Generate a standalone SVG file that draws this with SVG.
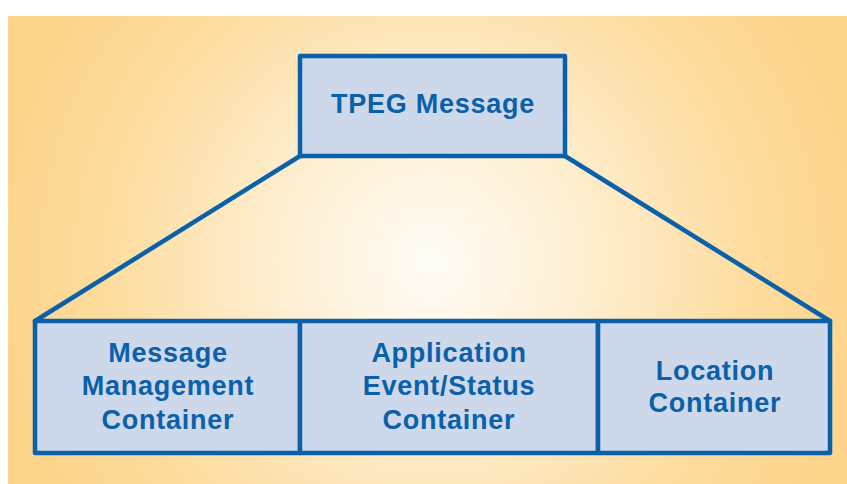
<svg xmlns="http://www.w3.org/2000/svg" width="847" height="484" viewBox="0 0 847 484">
<defs>
<radialGradient id="bg" gradientUnits="userSpaceOnUse" cx="430" cy="262" r="430">
<stop offset="0" stop-color="#FFFCF6"/>
<stop offset="0.35" stop-color="#FEEFD2"/>
<stop offset="0.75" stop-color="#FDDC9E"/>
<stop offset="1" stop-color="#FDD58D"/>
</radialGradient>
</defs>
<style>
.box{fill:#CDD9EA;stroke:#0A60A9;stroke-width:4.5;stroke-linejoin:round}
.conn{fill:none;stroke:#0A60A9;stroke-width:4.5;stroke-linecap:round}
.t{font-family:"Liberation Sans",Arial,sans-serif;font-weight:bold;font-size:27px;fill:#0A60A9;text-anchor:middle;letter-spacing:0.75px}
</style>
<rect x="8" y="16" width="839" height="468" fill="url(#bg)"/>
<g id="connectors">
<line class="conn" x1="300" y1="156" x2="35" y2="321"/>
<line class="conn" x1="565" y1="156" x2="830" y2="321"/>
</g>
<g id="tpeg-message">
<rect class="box" x="300" y="56" width="265" height="100"/>
<text class="t" x="433" y="113">TPEG Message</text>
</g>
<g id="message-management-container">
<rect class="box" x="35" y="321" width="265" height="132"/>
<text class="t" x="168" y="362">Message</text>
<text class="t" x="168" y="395">Management</text>
<text class="t" x="168" y="428.5">Container</text>
</g>
<g id="application-event-status-container">
<rect class="box" x="300" y="321" width="298" height="132"/>
<text class="t" x="449" y="362">Application</text>
<text class="t" x="449" y="395">Event/Status</text>
<text class="t" x="449" y="428.5">Container</text>
</g>
<g id="location-container">
<rect class="box" x="598" y="321" width="232" height="132"/>
<text class="t" x="715" y="380">Location</text>
<text class="t" x="715" y="412">Container</text>
</g>
</svg>
